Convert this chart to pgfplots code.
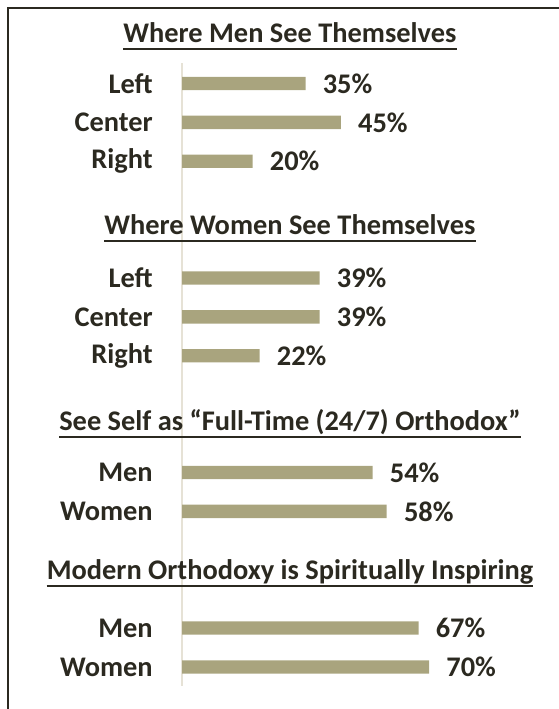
\documentclass[border=0pt]{standalone}
\usepackage{fontspec}
\setmainfont{Carlito}
\usepackage{pgfplots}
\pgfplotsset{compat=1.18}
\definecolor{barcol}{HTML}{A9A47E}
\definecolor{txtcol}{HTML}{2B2920}
\definecolor{axcol}{HTML}{E6E2D6}
\begin{document}
\begin{tikzpicture}
\path[use as bounding box] (0,0) rectangle (419.25pt,531.75pt);
% frame
\draw[txtcol, line width=1.5pt] (6pt,0pt) -- (6pt,525.75pt) -- (419.25pt,525.75pt);
\begin{axis}[
  at={(136.5pt,17.25pt)}, anchor=south west,
  scale only axis, width=264.75pt, height=467.25pt,
  xbar, bar width=10pt,
  xmin=0, xmax=100,
  ymin=-0.527, ymax=15.49, y dir=reverse,
  axis x line=none, axis y line=left,
  y axis line style={-, draw=axcol, line width=1.5pt},
  xtick=\empty,
  ytick={0,1,2,5,6,7,10,11,14,15},
  yticklabels={Left,Center,Right,Left,Center,Right,Men,Women,Men,Women},
  major tick length=0pt,
  /pgf/number format/assume math mode=true,
  yticklabel style={font=\fontsize{21.3}{24}\selectfont\bfseries, text=txtcol, anchor=east, inner sep=0pt, xshift=-21.75pt},
  nodes near coords={\pgfmathprintnumber{\pgfplotspointmeta}\%},
  every node near coord/.append style={font=\fontsize{21.3}{24}\selectfont\bfseries, text=txtcol, anchor=west, inner sep=0pt, xshift=12.75pt},
  clip=false,
]
\addplot[fill=barcol, draw=none] coordinates {
  (35,0) (45,1) (20,2)
  (39,5) (39,6) (22,7)
  (54,10) (58,11)
  (67,14) (70,15)
};
\end{axis}
\begin{scope}[every node/.style={font=\fontsize{21.3}{24}\selectfont\bfseries, text=txtcol, inner sep=0pt, anchor=base}]
\node (t1) at (217.5pt,499.5pt) {Where Men See Themselves};
\node (t2) at (217.5pt,355.5pt) {Where Women See Themselves};
\node (t3) at (217.5pt,208.5pt) {See Self as “Full-Time (24/7) Orthodox”};
\node (t4) at (217.5pt,96.75pt) {Modern Orthodoxy is Spiritually Inspiring};
\end{scope}
\foreach \t in {t1,t2,t3,t4}{
  \draw[txtcol, line width=1.5pt] ([yshift=-4.5pt]\t.base west) -- ([yshift=-4.5pt]\t.base east);
}
\end{tikzpicture}
\end{document}
